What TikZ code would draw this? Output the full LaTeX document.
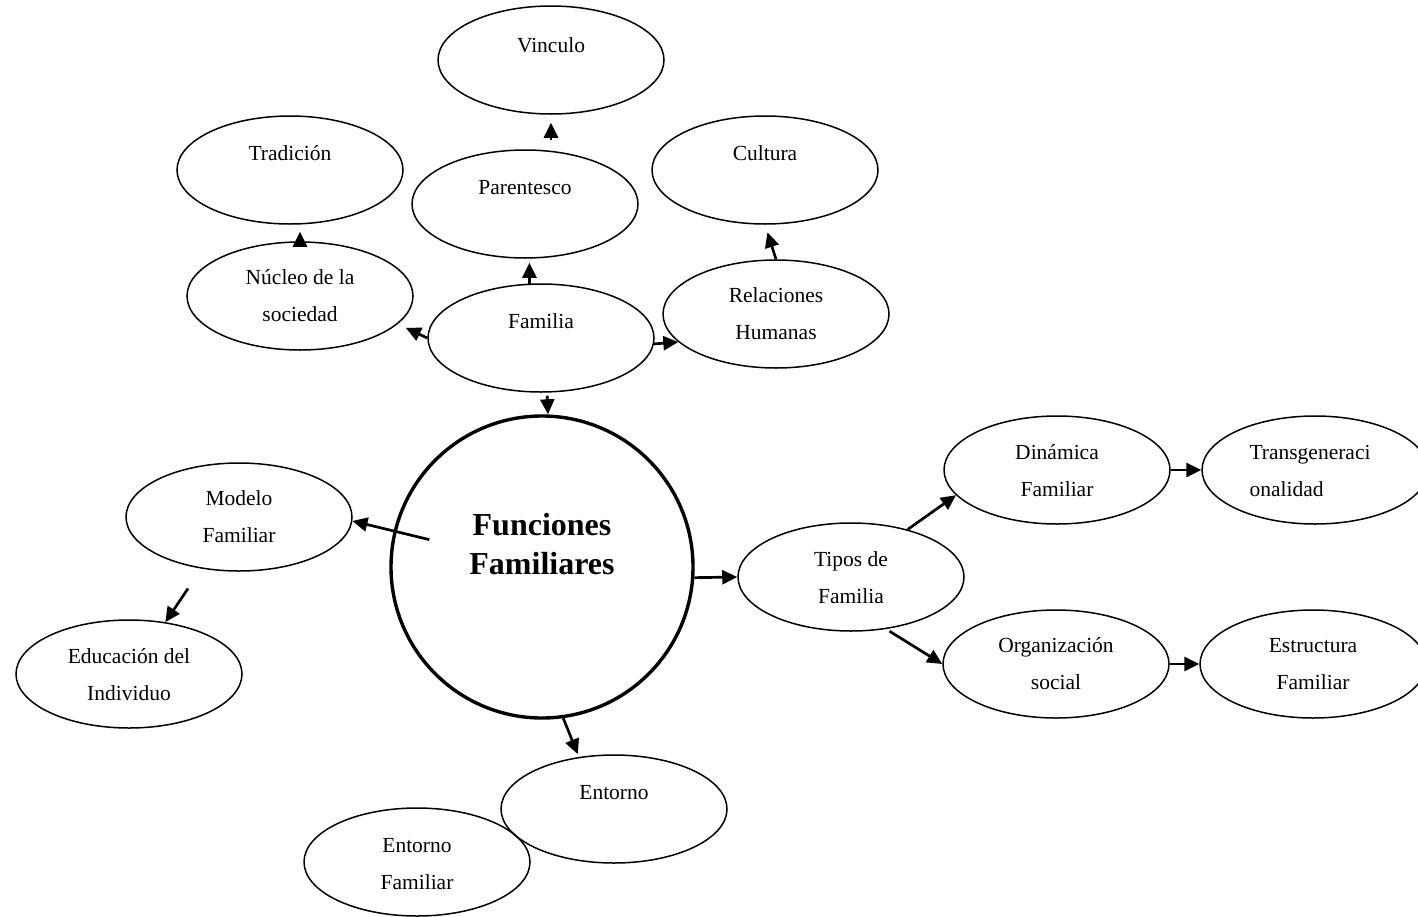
\documentclass[tikz,border=0pt]{standalone}
\usepackage{fontspec}
\setmainfont{Liberation Serif}
\usetikzlibrary{shapes.geometric, arrows.meta}

\begin{document}
\begin{tikzpicture}[x=1pt, y=-1pt,
  bub/.style={draw, ellipse, line width=1.5pt, minimum width=226pt, minimum height=108pt, inner sep=0pt},
  txt/.style={font=\fontsize{21.5}{37}\selectfont, align=center},
  arr/.style={-{Triangle[length=15pt, width=14pt]}, line width=2.7pt}
]
  \useasboundingbox (0,0) rectangle (1418,916);

  % upper cluster round Familia
  \node[bub, label={[txt, yshift=15pt]center:Vinculo}] (vinculo) at (551,60) {};
  \node[bub, label={[txt, yshift=17pt]center:Tradición}] (tradicion) at (290,170) {};
  \node[bub, label={[txt, yshift=16pt]center:Parentesco}] (parentesco) at (525,204) {};
  \node[bub, label={[txt, yshift=17pt]center:Cultura}] (cultura) at (765,170) {};
  \node[bub, label={[txt]center:Núcleo de la\\sociedad}] (nucleo) at (300,296) {};
  \node[bub, label={[txt, yshift=17pt]center:Familia}] (familia) at (541,338) {};
  \node[bub, label={[txt]center:Relaciones\\Humanas}] (relaciones) at (776,314) {};

  % centre
  \node[draw, circle, line width=3.4pt, minimum size=302pt, inner sep=0pt,
    label={[font=\fontsize{32}{39}\selectfont\bfseries, align=center, yshift=23pt]center:Funciones\\Familiares}] (funciones) at (542,567) {};

  % left and bottom
  \node[bub, label={[txt]center:Modelo\\Familiar}] (modelo) at (239,517) {};
  \node[bub, label={[txt, yshift=-1pt]center:Educación del\\Individuo}] (educacion) at (129,674) {};
  \node[bub, label={[txt, yshift=16pt]center:Entorno}] (entorno) at (614,809) {};
  \node[bub, label={[txt, yshift=-2pt]center:Entorno\\Familiar}] (entfam) at (417,862) {};

  % right branch
  \node[bub, label={[txt, yshift=-1pt]center:Tipos de\\Familia}] (tipos) at (851,577) {};
  \node[bub, label={[txt, yshift=-1pt]center:Dinámica\\Familiar}] (dinamica) at (1057,470) {};
  \node[bub, label={[txt, align=left, xshift=-5pt, yshift=-1pt]center:Transgeneraci\\onalidad}] (transg) at (1315,470) {};
  \node[bub, label={[txt]center:Organización\\social}] (organizacion) at (1056,664) {};
  \node[bub, label={[txt]center:Estructura\\Familiar}] (estructura) at (1313,664) {};

  % arrows
  \draw[arr, shorten <=9pt, shorten >=8pt] (parentesco.north -| vinculo.south) -- (vinculo.south);
  \draw[arr, shorten >=4pt] (familia.102) -- (familia.102 |- parentesco.south);
  \draw[arr, shorten >=7pt] (nucleo.north) -- (nucleo.north |- tradicion.south);
  \draw[arr, shorten >=8pt] (relaciones.north) -- (cultura.south);
  \draw[arr, shorten >=9pt] (familia.west) -- (nucleo.-16);
  \draw[arr] (familia.-3) -- (relaciones.196);
  \draw[arr, shorten <=3pt] ([xshift=6pt]familia.south) -- ([xshift=6pt]funciones.north);
  \draw[arr, shorten <=116pt] (funciones.center) -- (modelo.-2);
  \draw[arr, shorten <=24pt] (modelo.-126) -- (educacion.55);
  \draw[arr, shorten >=3pt] (funciones.-82) -- (entorno.124);
  \draw[arr] (funciones.-4) -- (tipos.west);
  \draw[arr] (tipos.40) -- (dinamica.194);
  \draw[arr, shorten <=4pt] (tipos.-56) -- (organizacion.west);
  \draw[arr] (dinamica.east) -- (transg.west);
  \draw[arr] (organizacion.east) -- (estructura.west);
\end{tikzpicture}
\end{document}
